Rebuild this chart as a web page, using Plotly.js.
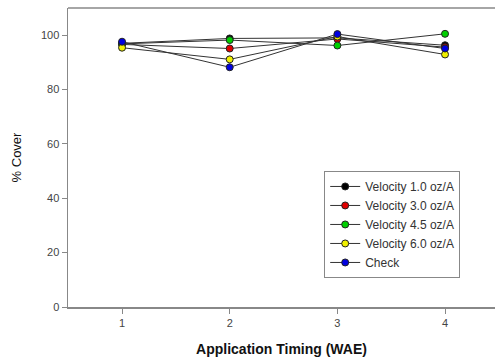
<!DOCTYPE html>
<html>
<head>
<meta charset="utf-8">
<script src="https://cdn.plot.ly/plotly-3.0.1.min.js"></script>
<style>html,body{margin:0;padding:0;background:#fff;}#chart{width:495px;height:359px;}</style>
</head>
<body>
<div id="chart"></div>
<script>
const timing = [1, 2, 3, 4];
const seriesNames = ["Velocity 1.0 oz/A", "Velocity 3.0 oz/A", "Velocity 4.5 oz/A", "Velocity 6.0 oz/A", "Check"];
const vel10 = [97.0, 98.8, 99.0, 96.3];
const vel30 = [96.6, 95.1, 98.6, 95.6];
const vel45 = [96.8, 98.2, 96.2, 100.5];
const vel60 = [95.4, 91.1, 99.5, 92.9];
const check = [97.6, 88.2, 100.4, 95.1];
const markerColors = ["#000000", "#e00000", "#00d000", "#f0f000", "#0000e0"];
const yTicks = [0, 20, 40, 60, 80, 100];

const allSeries = [vel10, vel30, vel45, vel60, check];
const traces = allSeries.map((vals, i) => ({
  x: timing, y: vals, name: seriesNames[i], type: "scatter", mode: "lines+markers",
  line: {color: "#333333", width: 1},
  marker: {color: markerColors[i], size: 7, line: {color: "#222222", width: 1}}
}));

const layout = {
  width: 495, height: 359,
  margin: {l: 68, r: 0, t: 8, b: 52},
  paper_bgcolor: "#ffffff", plot_bgcolor: "#ffffff",
  font: {family: "Liberation Sans, Arial, sans-serif", size: 11, color: "#444444"},
  showlegend: true,
  legend: {
    x: 0.6, xanchor: "left", y: 0.455, yanchor: "top",
    bgcolor: "#ffffff", bordercolor: "#888888", borderwidth: 1,
    font: {size: 12, color: "#333333"}, tracegroupgap: 0, itemwidth: 30
  },
  xaxis: {
    range: [0.498, 4.464], tickvals: timing, ticktext: timing.map(String),
    showgrid: false, zeroline: false, showline: true, linecolor: "#888888", linewidth: 1.5,
    mirror: false, ticks: "outside", ticklen: 5, tickcolor: "#888888",
    tickfont: {size: 11, color: "#444444"},
    title: {text: "<b>Application Timing (WAE)</b>", font: {size: 14, color: "#111111"}, standoff: 16}
  },
  yaxis: {
    range: [0, 110], tickvals: yTicks,
    showgrid: false, zeroline: false, showline: true, linecolor: "#888888", linewidth: 1.5,
    ticks: "outside", ticklen: 5, tickcolor: "#888888",
    tickfont: {size: 11, color: "#444444"},
    title: {text: "% Cover", font: {size: 13, color: "#111111"}, standoff: 16}
  },
  shapes: [
    {type: "line", xref: "paper", yref: "paper", x0: 0, x1: 1, y0: 1, y1: 1, line: {color: "#888888", width: 1.5}}
  ]
};

Plotly.newPlot("chart", traces, layout, {displayModeBar: false, staticPlot: true});
</script>
</body>
</html>
